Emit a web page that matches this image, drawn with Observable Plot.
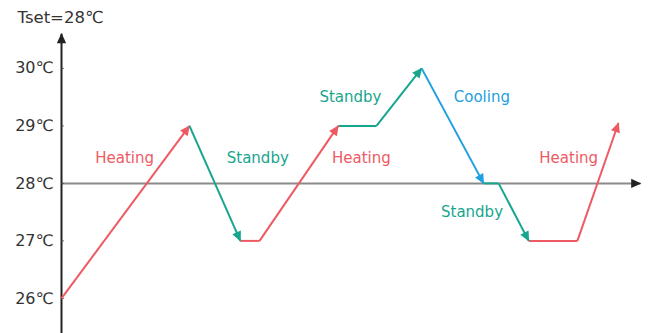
<!DOCTYPE html>
<html><head><meta charset="utf-8">
<script src="https://cdn.jsdelivr.net/npm/d3@7"></script>
<script src="https://cdn.jsdelivr.net/npm/@observablehq/plot@0.6"></script>
<style>body{margin:0;background:#fff}</style>
</head><body><div id="chart"></div>
<script>
// path vertices: time (arbitrary units), temperature (℃), mode of the segment ending at this point
const times = [0, 22.1, 30.9, 34.2, 47.8, 54.4, 62.2, 72.9, 75.5, 80.7, 89.1, 96.2];
const temps = [26, 29, 27, 27, 29, 29, 30, 28, 28, 27, 27, 29.05];
const modes = [null, "Heating", "Standby", "Heating", "Heating", "Standby", "Standby", "Cooling", "Standby", "Standby", "Heating", "Heating"];
const arrowed = [null, true, true, false, true, false, true, true, false, true, false, true];
const labelText = ["Heating", "Standby", "Heating", "Standby", "Cooling", "Standby", "Heating"];
const labelTime = [10.9, 33.9, 51.8, 49.9, 72.6, 70.9, 87.6];
const labelTemp = [28.43, 28.43, 28.43, 29.5, 29.5, 27.5, 28.43];
const yTicks = [26, 27, 28, 29, 30];
const title = "Tset=28℃";

const colors = {Heating: "#ee5a64", Standby: "#18a58e", Cooling: "#1ea0e0"};
const segs = [];
for (let i = 1; i < times.length; i++) {
  segs.push({x1: times[i-1], y1: temps[i-1], x2: times[i], y2: temps[i], mode: modes[i], arrow: arrowed[i]});
}
const labels = labelText.map((t, i) => ({t, x: labelTime[i], y: labelTemp[i]}));
const font = "'DejaVu Sans', sans-serif";

const chart = Plot.plot({
  width: 649, height: 333,
  marginLeft: 61, marginRight: 9, marginTop: 0, marginBottom: 0,
  x: {domain: [0, 100], axis: null},
  y: {domain: [25.39, 31.18], axis: null},
  style: {fontFamily: font, background: "#fff"},
  marks: [
    Plot.link([{x1: 0, x2: 100, y: 28}], {x1: "x1", x2: "x2", y1: "y", y2: "y", stroke: "#8a8a8a", strokeWidth: 2, markerEnd: "arrow"}),
    Plot.link([{y1: 25.39, y2: 30.6}], {x1: 0, x2: 0, y1: "y1", y2: "y2", stroke: "#222", strokeWidth: 2, markerEnd: "arrow"}),
    Plot.link(yTicks, {x1: 0, x2: 0.4, y1: d => d, y2: d => d, stroke: "#555", strokeWidth: 1}),
    Plot.text(yTicks, {x: 0, y: d => d, text: d => d + "℃", textAnchor: "end", dx: -8, fontSize: 16, fill: "#333"}),
    Plot.link(segs.filter(d => !d.arrow), {x1: "x1", y1: "y1", x2: "x2", y2: "y2", stroke: d => colors[d.mode], strokeWidth: 2}),
    Plot.link(segs.filter(d => d.arrow), {x1: "x1", y1: "y1", x2: "x2", y2: "y2", stroke: d => colors[d.mode], strokeWidth: 2, markerEnd: "arrow"}),
    Plot.text(labels, {x: "x", y: "y", text: "t", fill: d => colors[d.t], fontSize: 15}),
    Plot.text([title], {x: 0, y: 31.18, text: d => d, frameAnchor: "top", dx: -1, dy: 17, textAnchor: "middle", fontSize: 16.5, fill: "#333", lineAnchor: "middle"})
  ]
});
// make arrowheads filled triangles
d3.select(chart).selectAll("marker").each(function() {
  const m = d3.select(this);
  let c = m.attr("stroke");
  if (c === "#8a8a8a") c = "#222";
  m.attr("fill", c).attr("stroke", "none").attr("viewBox", "-10 -10 20 20").attr("markerWidth", 13.34).attr("markerHeight", 13.34);
  m.selectAll("path").attr("d", "M-7,-3.5L0.6,0L-7,3.5Z").attr("fill", c).attr("stroke", "none");
});
document.getElementById("chart").appendChild(chart);
</script>
</body></html>
